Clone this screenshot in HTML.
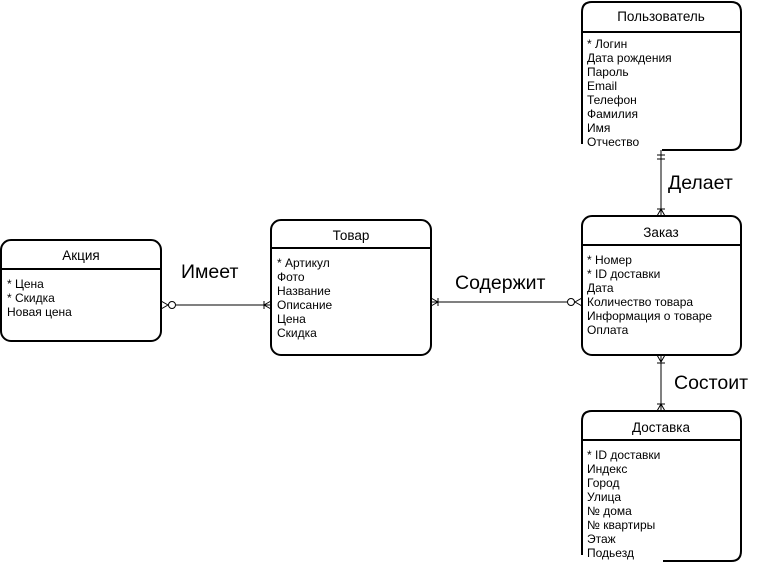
<!DOCTYPE html>
<html><head><meta charset="utf-8"><style>
html,body{margin:0;padding:0;background:#fff;}
svg{display:block;}
text{font-family:"Liberation Sans",Arial,sans-serif;fill:#000;}
.h{font-size:13.5px;text-anchor:middle;}
.t{font-size:12px;}
.l{font-size:19.5px;}
</style></head><body>
<svg width="762" height="571" viewBox="0 0 762 571" xmlns="http://www.w3.org/2000/svg">
<g fill="none" stroke="#000" stroke-width="2">
<path d="M582,144 V12 Q582,2 592,2 H731 Q741,2 741,12 V140 Q741,150 731,150 H662"/>
<line x1="582" y1="32" x2="741" y2="32"/>
<rect x="582" y="216" width="159" height="139" rx="10"/>
<line x1="582" y1="245" x2="741" y2="245"/>
<path d="M582,555 V421 Q582,411 592,411 H731 Q741,411 741,421 V551 Q741,561 731,561 H663"/>
<line x1="582" y1="440" x2="741" y2="440"/>
<rect x="271" y="220" width="160" height="135" rx="10"/>
<line x1="271" y1="248" x2="431" y2="248"/>
<rect x="1" y="240" width="160" height="101" rx="10"/>
<line x1="1" y1="269" x2="161" y2="269"/>
</g>
<g fill="none" stroke="#000" stroke-width="1">
<line x1="661" y1="150" x2="661" y2="216"/>
<line x1="657" y1="155" x2="665" y2="155"/><line x1="657" y1="159" x2="665" y2="159"/>
<path d="M657,216 L661,209 L665,216"/><line x1="657" y1="209" x2="665" y2="209"/>
<line x1="661" y1="355" x2="661" y2="411"/>
<path d="M657,355 L661,362 L665,355"/><line x1="657" y1="363" x2="665" y2="363"/>
<path d="M657,411 L661,404 L665,411"/><line x1="657" y1="404" x2="665" y2="404"/>
<line x1="176" y1="305" x2="271" y2="305"/>
<path d="M161,301 L168,305 L161,309"/><circle cx="172" cy="305" r="3.5" fill="#fff"/>
<path d="M271,301 L264,305 L271,309"/><line x1="264" y1="301" x2="264" y2="309"/>
<line x1="431" y1="302" x2="567" y2="302"/>
<path d="M431,298 L438,302 L431,306"/><line x1="438" y1="298" x2="438" y2="306"/>
<path d="M582,298 L575,302 L582,306"/><circle cx="571" cy="302" r="3.5" fill="#fff"/>
</g>
<text class="h" x="661" y="21">Пользователь</text>
<g class="t">
<text x="587" y="48">* Логин</text><text x="587" y="62">Дата рождения</text><text x="587" y="76">Пароль</text><text x="587" y="90">Email</text><text x="587" y="104">Телефон</text><text x="587" y="118">Фамилия</text><text x="587" y="132">Имя</text><text x="587" y="146">Отчество</text>
</g>
<text class="h" x="661" y="237">Заказ</text>
<g class="t">
<text x="587" y="264">* Номер</text><text x="587" y="278">* ID доставки</text><text x="587" y="292">Дата</text><text x="587" y="306">Количество товара</text><text x="587" y="320">Информация о товаре</text><text x="587" y="334">Оплата</text>
</g>
<text class="h" x="661" y="432">Доставка</text>
<g class="t">
<text x="587" y="459">* ID доставки</text><text x="587" y="473">Индекс</text><text x="587" y="487">Город</text><text x="587" y="501">Улица</text><text x="587" y="515">№ дома</text><text x="587" y="529">№ квартиры</text><text x="587" y="543">Этаж</text><text x="587" y="557">Подьезд</text>
</g>
<text class="h" x="351" y="240">Товар</text>
<g class="t">
<text x="277" y="267">* Артикул</text><text x="277" y="281">Фото</text><text x="277" y="295">Название</text><text x="277" y="309">Описание</text><text x="277" y="323">Цена</text><text x="277" y="337">Скидка</text>
</g>
<text class="h" x="81" y="260">Акция</text>
<g class="t">
<text x="7" y="288">* Цена</text><text x="7" y="302">* Скидка</text><text x="7" y="316">Новая цена</text>
</g>
<text class="l" x="181" y="278">Имеет</text>
<text class="l" x="455" y="289">Содержит</text>
<text class="l" x="668" y="189">Делает</text>
<text class="l" x="674" y="389">Состоит</text>
</svg>
</body></html>
